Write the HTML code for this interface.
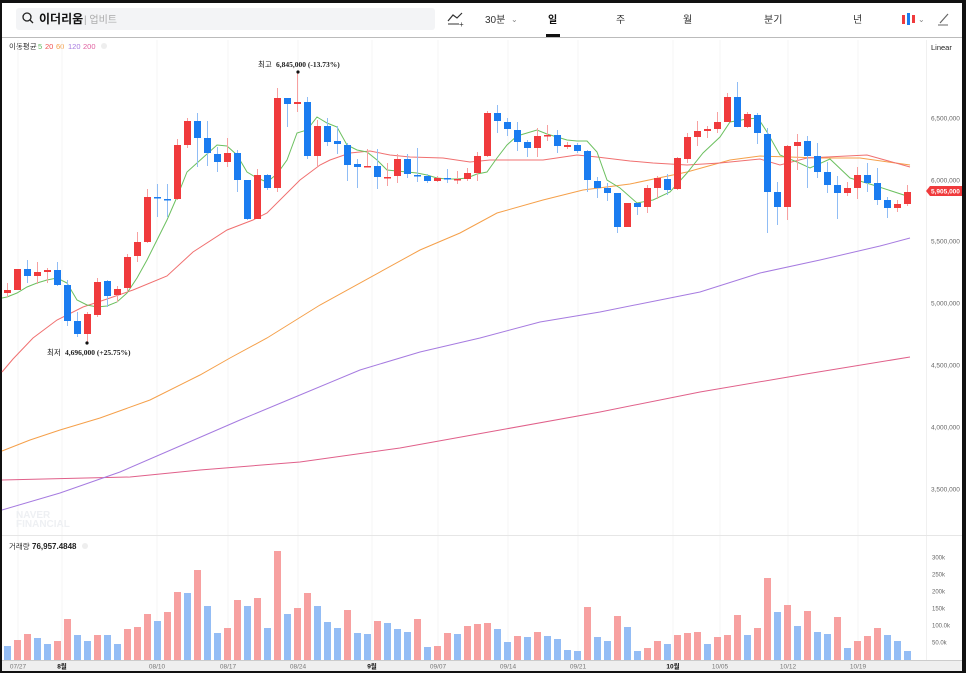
<!DOCTYPE html>
<html><head><meta charset="utf-8">
<style>
html,body{margin:0;padding:0;background:#111;}
body{width:966px;height:673px;position:relative;overflow:hidden;font-family:"Liberation Sans","Noto Sans CJK KR",sans-serif;}
#w{position:absolute;left:2px;top:3px;width:960px;height:668px;background:#fff;}
svg{position:absolute;left:0;top:0;}
</style></head><body>
<div id="w"></div>
<svg id="s" width="966" height="673" xmlns="http://www.w3.org/2000/svg"></svg>
<script>
const S=document.getElementById('s');let h='';
function t(x,y,s,sz,c,extra){h+=`<text x="${x}" y="${y}" font-size="${sz}" fill="${c}" ${extra||''}>${s}</text>`;}
// top bar
h+=`<rect x="16" y="8" width="419" height="22" rx="3" fill="#f3f4f6"/>`;
h+=`<circle cx="27" cy="17" r="4" fill="none" stroke="#222" stroke-width="1.3"/><line x1="30" y1="20" x2="33" y2="23" stroke="#222" stroke-width="1.3"/>`;
t(39,23,'이더리움',12,'#111','font-weight="bold"');t(84,23,'| 업비트',10,'#aaa');
h+=`<polyline points="448,21 453,15 457,18 462,13" fill="none" stroke="#333" stroke-width="1.2"/><line x1="448" y1="24" x2="459" y2="24" stroke="#333"/><text x="459" y="27" font-size="8" fill="#333">+</text>`;
t(485,23,'30분',10,'#333');t(511,22,'⌄',8,'#888');
t(548,23,'일',10,'#111','font-weight="bold"');h+=`<rect x="546" y="34" width="14" height="3" fill="#111"/>`;
t(616,23,'주',10,'#333');t(683,23,'월',10,'#333');t(764,23,'분기',10,'#333');t(853,23,'년',10,'#333');
h+=`<rect x="902" y="15" width="3" height="9" fill="#f03a3c"/><rect x="907" y="13" width="3" height="12" fill="#1a7cf0"/><rect x="912" y="15" width="3" height="8" fill="#f03a3c"/>`;t(918,22,'⌄',8,'#888');
h+=`<line x1="940" y1="23" x2="948" y2="14" stroke="#666" stroke-width="1.2"/><line x1="938" y1="25" x2="948" y2="25" stroke="#666"/>`;
h+=`<line x1="2" y1="37.5" x2="962" y2="37.5" stroke="#bbb"/>`;
// legend
t(9,49,'이동평균',7.5,'#333');t(38,49,'5',7.5,'#5cb85c');t(45,49,'20',7.5,'#f05050');t(56,49,'60',7.5,'#f5a04a');t(68,49,'120',7.5,'#a67be0');t(83,49,'200',7.5,'#e060a0');
h+=`<circle cx="104" cy="46" r="3" fill="#eee"/>`;
t(931,50,'Linear',7.5,'#222');
// grid verticals
const gx=[18,62,157,228,298,372,438,508,578,673,720,788,858];
gx.forEach(x=>{h+=`<line x1="${x}" y1="40" x2="${x}" y2="660" stroke="#f4f4f4"/>`;});
h+=`<line x1="926.5" y1="40" x2="926.5" y2="660" stroke="#f0f0f0"/>`;
h+=`<line x1="2" y1="535.5" x2="962" y2="535.5" stroke="#e6e6e6"/>`;
// watermark
t(16,518,'NAVER',10,'#eef0f3','font-weight="bold"');t(16,527,'FINANCIAL',10,'#eef0f3','font-weight="bold"');
// MAs
function pl(p,c){h+=`<polyline points="${p}" fill="none" stroke="${c}" stroke-width="1"/>`;}
pl('2,480 130,477 200,470 300,462 400,448 500,430 600,412 700,392 800,375 910,357','#e0608a');
pl('2,510 60,493 120,472 180,446 240,420 300,395 360,370 420,352 480,338 540,322 600,312 660,300 700,292 760,273 820,260 880,246 910,238','#a67be0');
pl('2,451 30,440 60,430 100,418 150,400 200,375 230,358 267,338 320,305 420,250 460,233 497,213 543,200 583,190 630,184 687,172 730,160 760,156 820,158 860,158 910,165','#f5a04a');
pl('2,372 13,359 33,338 57,320 83,307 110,298 133,290 167,276 193,252 227,230 253,220 267,213 300,180 320,165 330,160 350,153 370,151 390,155 410,157 443,158 470,162 490,160 510,160 543,160 577,155 597,157 630,161 653,163 687,165 720,163 760,159 780,165 807,158 867,155 910,167','#f07070');
pl('2,298 7,297 17,293 27,287 37,283 47,280 57,278 67,283 77,300 87,305 97,307 107,306 117,302 127,293 137,278 147,260 157,240 167,220 177,197 187,172 197,163 207,154 217,145 227,146 237,155 247,172 257,178 267,182 277,174 287,160 297,133 307,130 317,117 327,123 337,127 347,145 357,150 367,152 377,160 387,170 397,171 407,172 417,173 427,175 437,178 447,179 457,179 467,178 477,174 487,172 497,158 507,145 517,136 527,133 537,130 547,134 557,137 567,140 577,141 587,141 597,152 607,180 620,188 637,203 653,200 670,192 687,173 703,153 720,137 730,122 747,119 758,118 767,132 780,155 797,162 810,168 830,159 850,178 873,185 910,197','#6cc060');
// candles [c, bt, bb, wt, wb]
const C=[['r',290,293,283,297],['r',269,290,269,290],['b',269,276,260,283],['r',272,276,262,284],['r',270,272,268,283],['b',270,285,262,286],['b',285,321,280,326],['b',321,334,312,337],['r',314,334,312,342],['r',282,315,278,317],
['b',281,296,280,307],['r',289,295,286,302],['r',257,288,254,292],['r',242,256,232,262],['r',197,242,189,243],['b',197,198,184,217],['b',199,200,184,217],['r',145,199,139,200],['r',121,145,118,148],['b',121,138,113,167],
['b',138,153,121,166],['b',154,162,147,172],['r',153,162,138,167],['b',153,180,150,192],['b',180,219,180,220],['r',175,219,169,219],['b',175,188,174,190],['r',98,188,88,192],['b',98,104,98,127],['r',102,104,73,112],
['b',102,156,97,159],['r',126,156,120,166],['b',126,142,118,146],['b',141,144,126,154],['b',145,165,143,181],['b',164,167,159,188],['r',166,167,149,167],['b',166,177,149,189],['r',177,178,163,186],['r',159,176,154,183],
['b',159,174,154,178],['b',175,176,148,182],['b',176,181,174,183],['r',178,181,176,182],['b',178,179,169,183],['r',179,180,171,184],['r',173,179,168,181],['r',156,173,152,181],['r',113,156,111,157],['b',113,121,105,133],
['b',122,129,118,136],['b',130,142,122,151],['b',142,148,140,157],['r',136,148,128,157],['r',135,136,125,141],['b',135,146,130,153],['r',145,147,142,149],['b',145,151,143,153],['b',151,180,150,192],['b',181,188,177,198],
['b',188,193,183,201],['b',193,227,193,233],['r',203,227,203,227],['b',203,207,203,215],['r',188,207,185,213],['r',178,188,176,199],['b',179,190,174,195],['r',158,189,157,190],['r',137,159,133,163],['r',131,137,121,146],
['r',129,131,126,138],['r',122,129,112,133],['r',97,122,93,122],['b',97,127,82,127],['r',114,127,112,128],['b',115,133,113,144],['b',134,192,128,233],['b',192,207,182,225],['r',146,207,145,220],['r',142,146,134,170],
['b',141,156,136,188],['b',156,172,143,178],['b',172,185,162,193],['b',185,193,176,219],['r',188,193,182,196],['r',175,188,167,199],['b',175,183,163,192],['b',183,200,168,205],['b',200,208,197,218],['r',204,208,200,212],['r',192,204,185,206]];
const V=[['b',646],['r',640],['r',634],['b',638],['b',644],['r',641],['r',619],['b',635],['b',641],['r',635],['b',635],['b',644],['r',629],['r',627],['r',614],['b',621],['r',612],['r',592],['b',593],['r',570],['b',606],['b',633],['r',628],['r',600],['b',606],['r',598],['b',628],['r',551],['b',614],['r',608],['r',593],['b',606],['b',622],['b',628],['r',610],['b',633],['b',634],['r',621],['b',623],['b',629],['b',632],['r',619],['b',647],['r',646],['r',633],['b',634],['r',626],['r',624],['r',623],['b',629],['b',642],['r',636],['b',637],['r',632],['b',636],['b',639],['b',650],['b',651],['r',607],['b',637],['b',641],['r',616],['b',627],['b',651],['r',648],['r',641],['b',644],['r',635],['r',633],['r',632],['b',644],['r',637],['r',635],['r',615],['b',635],['r',628],['r',578],['b',612],['r',605],['b',626],['r',611],['b',632],['b',634],['r',617],['b',648],['r',641],['r',636],['r',628],['b',635],['b',641],['b',651]];
C.forEach((c,i)=>{const x=7+10*i;const col=c[0]=='r'?'#f03a3c':'#1a7cf0';const wc=c[0]=='r'?'#f7a0a0':'#90bdf5';
h+=`<line x1="${x+.5}" y1="${c[3]}" x2="${x+.5}" y2="${c[4]}" stroke="${wc}"/>`;
h+=`<rect x="${x-3}" y="${c[1]}" width="7" height="${Math.max(1.5,c[2]-c[1])}" fill="${col}"/>`;});
V.forEach((v,i)=>{const x=7+10*i;h+=`<rect x="${x-3}" y="${v[1]}" width="7" height="${660-v[1]}" fill="${v[0]=='r'?'#f7a0a0':'#94bdf5'}"/>`;});
// annotations
const sf='font-family="Liberation Serif,serif"';
t(258,67,'최고',7.5,'#222');t(276,67,'6,845,000 (-13.73%)',7.5,'#222',sf+' font-weight="bold"');h+=`<circle cx="298" cy="72" r="1.6" fill="#111"/>`;
t(47,355,'최저',7.5,'#222');t(65,355,'4,696,000 (+25.75%)',7.5,'#222',sf+' font-weight="bold"');h+=`<circle cx="87" cy="343" r="1.6" fill="#111"/>`;
// right axis
[['6,500,000',118],['6,000,000',180],['5,500,000',241],['5,000,000',303],['4,500,000',365],['4,000,000',427],['3,500,000',489]].forEach(a=>t(931,a[1]+2.5,a[0],6.5,'#666'));
h+=`<polygon points="926,191 930,186 962,186 962,196 930,196" fill="#f03a3c"/>`;t(931,193.5,'5,905,000',6.5,'#fff','font-weight="bold"');
t(9,549,'거래량',7.5,'#333');t(32,549,'76,957.4848',8,'#222','font-weight="bold"');h+=`<circle cx="85" cy="546" r="3" fill="#eee"/>`;
[['300k',557],['250k',574],['200k',591],['150k',608],['100.0k',625],['50.0k',642]].forEach(a=>t(932,a[1]+2.5,a[0],6,'#666'));
// bottom axis
h+=`<rect x="2" y="660" width="960" height="11" fill="#efefef"/><line x1="2" y1="660.5" x2="962" y2="660.5" stroke="#ccc"/>`;
[['07/27',18],['8월',62,1],['08/10',157],['08/17',228],['08/24',298],['9월',372,1],['09/07',438],['09/14',508],['09/21',578],['10월',673,1],['10/05',720],['10/12',788],['10/19',858]].forEach(a=>t(a[1],668.5,a[0],6.5,a[2]?'#111':'#777','text-anchor="middle"'+(a[2]?' font-weight="bold"':'')));
S.innerHTML=h;
</script>
</body></html>
